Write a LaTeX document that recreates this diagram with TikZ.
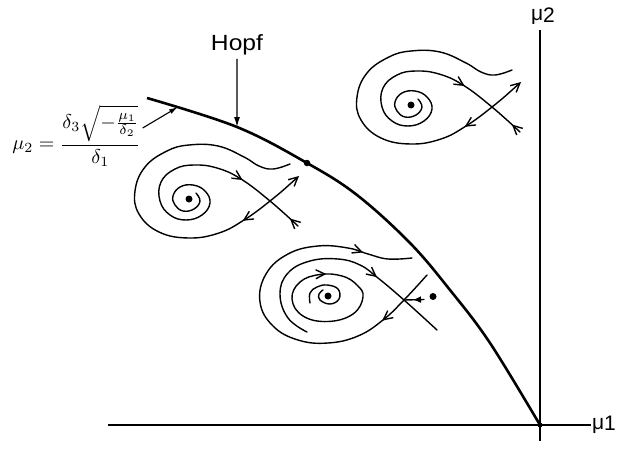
\documentclass[tikz,border=0pt]{standalone}
\usepackage{fontspec}
\newfontfamily\labelfont{Liberation Sans}
\usetikzlibrary{arrows.meta,decorations.markings}

\begin{document}
\begin{tikzpicture}[x=1pt, y=-1pt,
  flow/.style={line width=1.4pt, line cap=round},
  barbat/.style={postaction={decorate, decoration={markings, mark=at position #1 with {\arrow{Straight Barb[length=9pt,width=9pt]}}}}},
  barbback/.style={postaction={decorate, decoration={markings, mark=at position #1 with {\arrowreversed{Straight Barb[length=9pt,width=9pt]}}}}},
  tipat/.style={postaction={decorate, decoration={markings, mark=at position #1 with {\arrow{Latex[length=8pt,width=7pt]}}}}},
  eqdot/.style={circle, fill=black, inner sep=0pt, minimum size=7pt},
  musym/.style={font=\labelfont\fontsize{21}{25}\selectfont, inner sep=1pt}]
  \useasboundingbox (0,0) rectangle (636,458);

  % draw the axes
  \node[eqdot, minimum size=5pt] (orig) at (540,425) {};
  \node[musym] (mu1) at (604,425) {μ\raisebox{-1.5pt}{1}};
  \node[musym] (mu2) at (543,16) {μ\raisebox{-1.5pt}{2}};
  \coordinate (xstart) at (108,425);
  \coordinate (ytop) at (540,30);
  \coordinate (ybot) at (540,441);
  \draw[line width=1.5pt] (xstart) -- (mu1.west);
  \draw[line width=1.5pt] (ytop) -- (ybot);

  % draw the Hopf curve
  \draw[line width=2.6pt] plot[smooth, tension=0.6] coordinates {(147,98) (237,127) (307,163) (357,195) (410,243) (450,290) (490,343) (orig)};
  \node[eqdot, minimum size=6.5pt] (bt) at (307,163) {};
  \coordinate (hopfpt) at (237,127);
  \coordinate (hopfleft) at (178,107);
  \node[font=\labelfont\fontsize{22}{26}\selectfont, xscale=1.12] (hopf) at (237,45) {Hopf};
  \draw[line width=1.2pt, -{Latex[length=10pt,width=6pt]}] (hopf) -- (hopfpt);
  \node[scale=2, inner sep=0pt, anchor=east] (formula) at (141,136)
    {$\mu_2=\displaystyle\frac{\delta_3\sqrt{-\frac{\mu_1}{\delta_2}}}{\delta_1}$};
  \draw[line width=1.1pt, shorten <=2pt, -{Latex[length=9pt,width=5pt]}] ([yshift=7pt]formula.east) -- (hopfleft);

  % draw the phase portrait above the Hopf curve
  \begin{scope}[shift={(411,105)}]
    \node[eqdot] (p1dot) at (0,0) {};
    \coordinate (p1saddle) at (81,2);
    \coordinate (p1ne) at (110,-23);
    \coordinate (p1se) at (109,27);
    \draw[flow, barbat=-72pt, barbback=-11pt] plot[smooth, tension=0.7] coordinates {(7,-6) (11,2) (5,10) (-6,12) (-14,6) (-16,-3) (-9,-12) (4,-14) (16,-8) (21,4) (13,16) (-3,21) (-19,16) (-29,2) (-28,-17) (-14,-30) (5,-34) (28,-31) (52,-20) (p1saddle) (p1se)};
    \draw[flow, {Straight Barb[length=9pt,width=9pt]}-, barbat=72pt] plot[smooth, tension=0.7] coordinates {(p1ne) (p1saddle) (55,21) (30,34) (0,39) (-30,33) (-50,15) (-54,-8) (-44,-32) (-22,-48) (0,-54) (29,-53) (55,-42) (70,-33) (84,-30) (101,-35)};
  \end{scope}

  % draw the phase portrait left of the Hopf curve
  \begin{scope}[shift={(189,199)}]
    \node[eqdot] (p2dot) at (0,0) {};
    \coordinate (p2saddle) at (81,2);
    \coordinate (p2ne) at (110,-23);
    \coordinate (p2se) at (109,27);
    \draw[flow, barbat=-72pt, barbback=-11pt] plot[smooth, tension=0.7] coordinates {(7,-6) (11,2) (5,10) (-6,12) (-14,6) (-16,-3) (-9,-12) (4,-14) (16,-8) (21,4) (13,16) (-3,21) (-19,16) (-29,2) (-28,-17) (-14,-30) (5,-34) (28,-31) (52,-20) (p2saddle) (p2se)};
    \draw[flow, {Straight Barb[length=9pt,width=9pt]}-, barbat=72pt] plot[smooth, tension=0.7] coordinates {(p2ne) (p2saddle) (55,21) (30,34) (0,39) (-30,33) (-50,15) (-54,-8) (-44,-32) (-22,-48) (0,-54) (29,-53) (55,-42) (70,-33) (84,-30) (101,-35)};
  \end{scope}

  % draw the phase portrait below the Hopf curve
  \begin{scope}[shift={(328,296)}]
    \node[eqdot] (p3dot) at (0,0) {};
    \node[eqdot] (p3node) at (105,0.5) {};
    \coordinate (p3saddle) at (76,4);
    \coordinate (p3ne) at (99,-21);
    \coordinate (p3se) at (109,34);
    \coordinate (p3in) at (96,3.5);
    \draw[flow, barbat=64pt, barbat=-50pt] plot[smooth, tension=0.7] coordinates {(p3ne) (p3saddle) (55,24) (30,40) (0,47) (-30,44) (-55,30) (-68,6) (-62,-22) (-40,-42) (-10,-50) (20,-48) (40,-42) (60,-37) (84,-38)};
    \draw[flow, barbat=-80pt] plot[smooth, tension=0.7] coordinates {(-21,36) (-40,22) (-48,-2) (-40,-23) (-18,-35) (10,-37) (32,-31) (50,-18) (p3saddle) (p3se)};
    \draw[flow, barbat=0.64] plot[smooth cycle, tension=0.7] coordinates {(35,1) (25,18) (0,25.5) (-25,20) (-36,3) (-28,-14) (-8,-21.5) (14,-20) (29,-11)};
    \draw[flow] plot[smooth, tension=0.7] coordinates {(-5,-6) (-9,-2) (-8,4) (2,8) (11,3) (10,-7) (-1,-11) (-11,-9) (-18,-3) (-18,7)};
    \draw[flow, tipat=0.55] (p3in) -- (p3saddle);
  \end{scope}
\end{tikzpicture}
\end{document}
